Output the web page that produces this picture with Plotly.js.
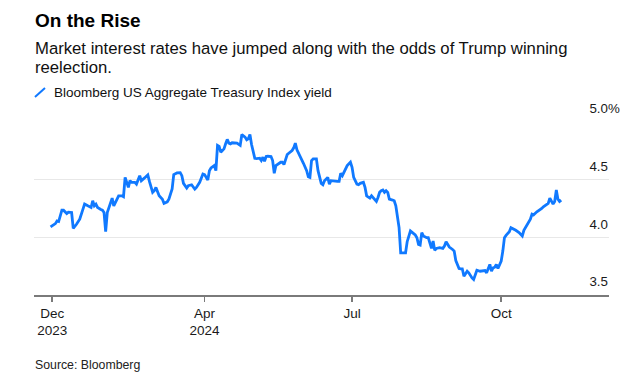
<!DOCTYPE html>
<html>
<head>
<meta charset="utf-8">
<script src="https://cdn.plot.ly/plotly-3.0.1.min.js"></script>
<style>html,body{margin:0;padding:0;background:#fff;}#chart{width:637px;height:375px;}</style>
</head>
<body>
<div id="chart"></div>
<script>
const seriesName = "Bloomberg US Aggregate Treasury Index yield";
const dates = [
"2023-12-28","2023-12-31","2024-01-01","2024-01-02","2024-01-04","2024-01-05","2024-01-07","2024-01-08","2024-01-10","2024-01-11",
"2024-01-13","2024-01-15","2024-01-17","2024-01-18","2024-01-20","2024-01-22","2024-01-23","2024-01-24","2024-01-25","2024-01-26",
"2024-01-28","2024-01-29","2024-01-30","2024-01-31","2024-02-01","2024-02-03","2024-02-04","2024-02-05","2024-02-07","2024-02-08",
"2024-02-10","2024-02-11","2024-02-12","2024-02-14","2024-02-15","2024-02-16","2024-02-18","2024-02-19","2024-02-21","2024-02-22",
"2024-02-24","2024-02-26","2024-02-27","2024-02-29","2024-03-01","2024-03-02","2024-03-04","2024-03-06","2024-03-07","2024-03-09",
"2024-03-10","2024-03-12","2024-03-13","2024-03-15","2024-03-17","2024-03-18","2024-03-19","2024-03-21","2024-03-22","2024-03-24",
"2024-03-26","2024-03-27","2024-03-29","2024-03-31","2024-04-01","2024-04-02","2024-04-03","2024-04-04","2024-04-05","2024-04-07",
"2024-04-08","2024-04-09","2024-04-10","2024-04-11","2024-04-13","2024-04-14","2024-04-15","2024-04-16","2024-04-17","2024-04-18",
"2024-04-20","2024-04-21","2024-04-23","2024-04-24","2024-04-26","2024-04-27","2024-04-28","2024-04-29","2024-04-30","2024-05-01",
"2024-05-02","2024-05-03","2024-05-05","2024-05-06","2024-05-07","2024-05-08","2024-05-09","2024-05-10","2024-05-12","2024-05-13",
"2024-05-14","2024-05-15","2024-05-17","2024-05-18","2024-05-19","2024-05-20","2024-05-22","2024-05-23","2024-05-25","2024-05-26",
"2024-05-27","2024-05-28","2024-05-31","2024-06-01","2024-06-03","2024-06-04","2024-06-05","2024-06-06","2024-06-07","2024-06-09",
"2024-06-10","2024-06-12","2024-06-13","2024-06-14","2024-06-16","2024-06-17","2024-06-18","2024-06-20","2024-06-22","2024-06-23",
"2024-06-24","2024-06-25","2024-06-27","2024-06-28","2024-06-30","2024-07-01","2024-07-02","2024-07-04","2024-07-05","2024-07-06",
"2024-07-08","2024-07-09","2024-07-10","2024-07-12","2024-07-13","2024-07-14","2024-07-16","2024-07-17","2024-07-18","2024-07-19",
"2024-07-20","2024-07-21","2024-07-22","2024-07-23","2024-07-24","2024-07-26","2024-07-27","2024-07-28","2024-07-29","2024-07-30",
"2024-07-31","2024-08-02","2024-08-03","2024-08-04","2024-08-05","2024-08-06","2024-08-08","2024-08-09","2024-08-10","2024-08-11",
"2024-08-12","2024-08-13","2024-08-14","2024-08-16","2024-08-17","2024-08-18","2024-08-19","2024-08-20","2024-08-21","2024-08-22",
"2024-08-23","2024-08-24","2024-08-26","2024-08-27","2024-08-28","2024-08-29","2024-08-30","2024-09-01","2024-09-02","2024-09-03",
"2024-09-04","2024-09-05","2024-09-06","2024-09-07","2024-09-08","2024-09-10","2024-09-11","2024-09-12","2024-09-13","2024-09-14",
"2024-09-15","2024-09-16","2024-09-18","2024-09-20","2024-09-21","2024-09-22","2024-09-23","2024-09-24","2024-09-25","2024-09-26",
"2024-09-27","2024-09-28","2024-09-29","2024-09-30","2024-10-01","2024-10-02","2024-10-03","2024-10-04","2024-10-05","2024-10-06",
"2024-10-07","2024-10-08","2024-10-10","2024-10-12","2024-10-13","2024-10-14","2024-10-15","2024-10-16","2024-10-17","2024-10-18",
"2024-10-19","2024-10-20","2024-10-21","2024-10-23","2024-10-24","2024-10-25","2024-10-26","2024-10-27","2024-10-29","2024-10-30",
"2024-10-31","2024-11-01","2024-11-02","2024-11-03","2024-11-04","2024-11-05","2024-11-06","2024-11-07"
];
const yields = [
4.090,4.119,4.142,4.137,4.235,4.235,4.206,4.218,4.215,4.078,
4.113,4.157,4.244,4.288,4.273,4.259,4.317,4.273,4.288,4.259,
4.241,4.235,4.215,4.049,4.215,4.288,4.340,4.273,4.323,4.360,
4.360,4.352,4.520,4.433,4.491,4.477,4.477,4.462,4.535,4.491,
4.515,4.541,4.485,4.390,4.404,4.433,4.360,4.331,4.294,4.308,
4.331,4.419,4.544,4.558,4.561,4.535,4.468,4.427,4.448,4.456,
4.419,4.433,4.477,4.549,4.544,4.520,4.497,4.578,4.602,4.622,
4.578,4.797,4.788,4.738,4.767,4.811,4.849,4.817,4.811,4.820,
4.817,4.817,4.797,4.892,4.869,4.846,4.855,4.892,4.805,4.747,
4.686,4.683,4.686,4.666,4.695,4.660,4.701,4.703,4.701,4.666,
4.555,4.622,4.637,4.651,4.651,4.631,4.718,4.730,4.753,4.776,
4.817,4.759,4.680,4.642,4.578,4.526,4.520,4.666,4.680,4.680,
4.578,4.468,4.456,4.491,4.520,4.462,4.491,4.485,4.485,4.485,
4.555,4.535,4.593,4.622,4.651,4.608,4.520,4.462,4.456,4.468,
4.477,4.433,4.360,4.340,4.360,4.346,4.311,4.346,4.390,4.404,
4.410,4.390,4.404,4.390,4.331,4.323,4.317,4.273,4.172,4.084,
3.866,3.866,3.866,3.962,4.012,4.055,4.032,4.020,3.997,3.939,
3.933,4.041,4.012,3.997,3.997,3.953,3.904,3.968,3.887,3.904,
3.910,3.910,3.904,3.924,3.962,3.939,3.916,3.895,3.881,3.799,
3.770,3.730,3.727,3.727,3.663,3.706,3.692,3.663,3.648,3.634,
3.677,3.715,3.706,3.706,3.712,3.692,3.735,3.765,3.706,3.735,
3.741,3.765,3.730,3.765,3.794,3.881,3.997,4.017,4.032,4.049,
4.084,4.078,4.061,4.041,4.026,4.012,4.061,4.084,4.099,4.128,
4.157,4.201,4.195,4.221,4.230,4.244,4.250,4.265,4.288,4.294,
4.340,4.311,4.288,4.311,4.410,4.331,4.311,4.323
];
const xTickVals = ["2023-12-29","2024-04-01","2024-07-01","2024-10-01"];
const xTickText = ["Dec<br>2023","Apr<br>2024","Jul","Oct"];
const yTickVals = [3.5,4.0,4.5,5.0];
const yTickText = ["3.5","4.0","4.5","5.0%"];
const titleText = "On the Rise";
const subtitleLines = ["Market interest rates have jumped along with the odds of Trump winning","reelection."];
const sourceText = "Source: Bloomberg";

const FONT = "Liberation Sans, Arial, Helvetica, sans-serif";
const BLUE = "#1079ff";

const trace = {
  x: dates, y: yields, type: "scatter", mode: "lines", name: seriesName,
  line: {color: BLUE, width: 2.8, shape: "linear"}, showlegend: false, hoverinfo: "skip"
};

const layout = {
  width: 637, height: 375,
  margin: {l: 34, r: 28, t: 122, b: 80, pad: 0},
  paper_bgcolor: "#ffffff", plot_bgcolor: "#ffffff",
  font: {family: FONT, color: "#1a1a1a"},
  showlegend: false,
  xaxis: {
    type: "date", range: ["2023-12-17 19:00", "2024-12-06 12:00"],
    tickvals: xTickVals, ticktext: xTickText,
    showgrid: false, zeroline: false,
    showline: true, linecolor: "#7a7a7a", linewidth: 1.5,
    ticks: "outside", ticklen: 5, tickwidth: 1.5, tickcolor: "#7a7a7a",
    tickfont: {size: 13.5, color: "#1a1a1a", family: FONT},
    fixedrange: true
  },
  yaxis: {
    range: [3.5, 5.0], side: "right", anchor: "free", position: 0.9643,
    tickvals: yTickVals, ticktext: yTickText,
    ticklabelposition: "outside top", ticklabelshift: -4,
    showgrid: true, gridcolor: "#e8e8e8", gridwidth: 1,
    zeroline: false, showline: false, ticks: "",
    tickfont: {size: 13.3, color: "#1a1a1a", family: FONT},
    fixedrange: true
  },
  shapes: [
    {type: "line", xref: "paper", yref: "paper", x0: 0.0017, x1: 0.0191, y0: 1.1445, y1: 1.1965,
     line: {color: BLUE, width: 2}}
  ],
  annotations: [
    {text: "<b>" + titleText + "</b>", xref: "paper", yref: "paper", x: -0.002, y: 1.5127,
     xanchor: "left", yanchor: "bottom", showarrow: false, font: {size: 19, color: "#000", family: FONT}},
    {text: subtitleLines[0], xref: "paper", yref: "paper", x: -0.002, y: 1.3595,
     xanchor: "left", yanchor: "bottom", showarrow: false, font: {size: 16.7, color: "#111", family: FONT}},
    {text: subtitleLines[1], xref: "paper", yref: "paper", x: -0.002, y: 1.2497,
     xanchor: "left", yanchor: "bottom", showarrow: false, font: {size: 16.7, color: "#111", family: FONT}},
    {text: seriesName, xref: "paper", yref: "paper", x: 0.0308, y: 1.1150,
     xanchor: "left", yanchor: "bottom", showarrow: false, font: {size: 13.5, color: "#111", family: FONT}},
    {text: sourceText, xref: "paper", yref: "paper", x: -0.002, y: -0.4544,
     xanchor: "left", yanchor: "bottom", showarrow: false, font: {size: 12.3, color: "#222", family: FONT}}
  ]
};

Plotly.newPlot("chart", [trace], layout, {staticPlot: true, displayModeBar: false});
</script>
</body>
</html>
